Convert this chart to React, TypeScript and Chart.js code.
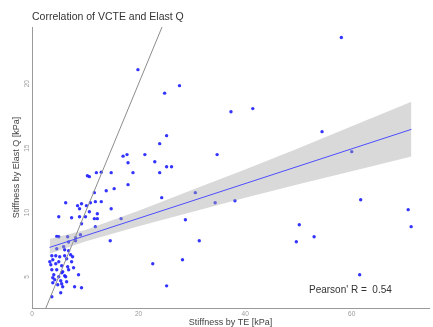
import React, { useEffect, useRef } from "react";
import { Chart, registerables } from "chart.js";

Chart.register(...registerables);

const FONT = '"Liberation Sans", Arial, Helvetica, sans-serif';

const chartTitle = "Correlation of VCTE and Elast Q";
const xAxisTitle = "Stiffness by TE [kPa]";
const yAxisTitle = "Stiffness by Elast Q [kPa]";

const xTicks = [0, 20, 40, 60];
const yTicks = [5, 10, 15, 20];

// Stiffness by TE (kPa)
const teKPa = [
  19.88, 27.68, 24.89, 25.26, 23.96, 17.09, 17.83, 21.18, 34.74, 18.02,
  23.04, 25.26, 26.19, 58.05, 37.34, 41.43, 54.43, 60.0, 30.65, 34.37,
  38.08, 28.79, 31.39, 61.68, 70.59, 71.15, 50.16, 49.6, 52.94, 61.49,
  22.66, 28.24, 25.26, 24.34, 23.96, 18.95, 14.86, 13.0, 12.08, 10.4,
  10.77, 18.02, 13.93, 15.42, 11.7, 6.32, 8.55, 9.29, 10.22, 10.96,
  11.89, 13.0, 8.92, 10.77, 12.26, 14.86, 5.02, 7.43, 8.92, 10.03,
  11.7, 12.26, 16.72, 9.29, 11.89, 14.68,
  5.02, 6.69, 8.17, 9.1, 4.64, 4.64, 6.13, 6.87, 3.72, 4.46,
  5.2, 6.13, 7.25, 3.9, 5.02, 6.5, 7.43, 3.53, 4.46, 5.57,
  6.69, 7.8, 3.72, 4.64, 5.76, 6.87, 4.09, 5.02, 6.13, 8.73,
  4.27, 5.39, 6.5, 4.83, 5.76, 7.99, 9.29, 5.39, 3.72, 5.94,
  7.62, 3.34, 5.57, 3.9, 3.9, 5.57, 6.32, 6.87, 8.17,
];

// Stiffness by Elast Q (kPa)
const elastQ = [
  21.09, 19.85, 19.27, 15.97, 15.35, 14.38, 14.5, 14.5, 14.5, 13.87,
  13.95, 13.56, 13.56, 23.58, 17.83, 18.07, 16.28, 14.73, 11.55, 10.77,
  10.92, 9.45, 7.82, 11.0, 10.23, 8.91, 9.06, 7.74, 8.13, 5.18,
  6.03, 6.34, 4.32, 11.16, 13.1, 13.1, 13.1, 13.14, 13.1, 12.86,
  12.79, 12.17, 11.7, 11.86, 11.55, 10.77, 10.54, 10.69, 10.54, 10.77,
  10.85, 10.85, 10.3, 10.07, 9.91, 10.3, 9.68, 9.6, 9.68, 9.68,
  9.53, 9.53, 9.53, 9.14, 8.91, 7.82,
  8.13, 8.13, 8.05, 8.28, 8.16, 7.2, 7.12, 7.04, 6.65, 6.65,
  6.58, 6.65, 6.73, 6.34, 6.19, 6.42, 6.19, 5.95, 6.03, 5.88,
  5.8, 5.72, 5.57, 5.57, 5.41, 5.57, 5.18, 5.02, 5.1, 5.18,
  4.79, 4.71, 4.64, 4.4, 4.25, 4.25, 4.17, 3.78, 3.47, 7.35,
  6.58, 6.19, 5.33, 4.95, 4.56, 4.48, 5.02, 7.72, 7.82,
];

// identity line (y = x)
const identityX = [0, 30];
const identityY = [0, 30];

// fitted regression line
const regX = [3.3, 71.2];
const regY = [7.3, 16.46];

// confidence band
const bandX = [3.3, 10, 20, 30, 40, 50, 60, 71.2];
const bandLow = [6.8, 7.75, 8.95, 10.05, 11.15, 12.2, 13.2, 14.35];
const bandHigh = [7.95, 8.65, 10.15, 11.75, 13.35, 15.0, 16.7, 18.6];

const pearsonR = 0.54;

const pts = (xs: number[], ys: number[]) => xs.map((x, i) => ({ x, y: ys[i] }));

const pearsonPlugin = {
  id: "pearsonLabel",
  afterDatasetsDraw(chart: any) {
    const { ctx, chartArea } = chart;
    ctx.save();
    ctx.font = `10px ${FONT}`;
    ctx.fillStyle = "#333";
    ctx.textAlign = "left";
    ctx.textBaseline = "middle";
    ctx.fillText(`Pearson' R =  ${pearsonR.toFixed(2)}`, chartArea.right - 120, chartArea.bottom - 18);
    ctx.restore();
  },
};

export default function App() {
  const ref = useRef<HTMLCanvasElement | null>(null);

  useEffect(() => {
    if (!ref.current) return;
    Chart.defaults.font.family = FONT;
    const chart = new Chart(ref.current, {
      type: "scatter",
      data: {
        datasets: [
          {
            label: "fit",
            data: pts(regX, regY),
            showLine: true,
            borderColor: "rgba(70,70,255,0.95)",
            borderWidth: 1,
            pointRadius: 0,
            order: 0,
          },
          {
            label: "upper",
            data: pts(bandX, bandHigh),
            showLine: true,
            borderColor: "rgba(0,0,0,0)",
            borderWidth: 0,
            pointRadius: 0,
            fill: "+1",
            backgroundColor: "rgba(165,165,165,0.42)",
            order: 1,
          },
          {
            label: "lower",
            data: pts(bandX, bandLow),
            showLine: true,
            borderColor: "rgba(0,0,0,0)",
            borderWidth: 0,
            pointRadius: 0,
            order: 2,
          },
          {
            label: "identity",
            data: pts(identityX, identityY),
            showLine: true,
            borderColor: "#8c8c8c",
            borderWidth: 1,
            pointRadius: 0,
            order: 3,
          },
          {
            label: "patients",
            data: pts(teKPa, elastQ),
            pointRadius: 1.7,
            pointBorderWidth: 0,
            pointBackgroundColor: "rgba(30,30,255,0.9)",
            backgroundColor: "rgba(30,30,255,0.9)",
            order: 4,
          },
        ],
      },
      options: {
        animation: false,
        responsive: false,
        devicePixelRatio: 1,
        layout: { padding: 0 },
        plugins: {
          legend: { display: false },
          tooltip: { enabled: false },
          title: {
            display: true,
            text: chartTitle,
            align: "start",
            fullSize: false,
            color: "#333",
            font: { size: 10.5, weight: "normal", family: FONT },
            padding: { top: 11, bottom: 3.4 },
          },
        },
        scales: {
          x: {
            type: "linear",
            min: 0,
            max: 74.5,
            afterBuildTicks: (s: any) => {
              s.ticks = xTicks.map((v) => ({ value: v }));
            },
            afterFit: (s: any) => {
              s.height = 19;
            },
            grid: { display: false, drawTicks: false },
            border: { display: true, color: "#9a9a9a", width: 1 },
            ticks: { color: "#9a9a9a", font: { size: 6.5 }, padding: 2, maxRotation: 0 },
            title: {
              display: true,
              text: xAxisTitle,
              color: "#444",
              font: { size: 9, lineHeight: 1.0 },
              padding: { top: 0, bottom: 0 },
            },
          },
          y: {
            type: "linear",
            min: 2.6,
            max: 24.4,
            afterBuildTicks: (s: any) => {
              s.ticks = yTicks.map((v) => ({ value: v }));
            },
            afterFit: (s: any) => {
              s.width = 32;
            },
            grid: { display: false, drawTicks: false },
            border: { display: true, color: "#9a9a9a", width: 1 },
            ticks: {
              color: "#9a9a9a",
              font: { size: 6.5 },
              padding: 1.5,
              minRotation: 90,
              maxRotation: 90,
              crossAlign: "center",
            },
            title: {
              display: true,
              text: yAxisTitle,
              color: "#444",
              font: { size: 9, lineHeight: 1.0 },
              padding: { top: 12, bottom: 0 },
            },
          },
        },
      },
      plugins: [pearsonPlugin],
    } as any);
    return () => chart.destroy();
  }, []);

  return (
    <div style={{ position: "absolute", left: 0, top: 0, width: 433, height: 327, background: "#fff" }}>
      <canvas ref={ref} width={433} height={327} style={{ display: "block" }} />
    </div>
  );
}
